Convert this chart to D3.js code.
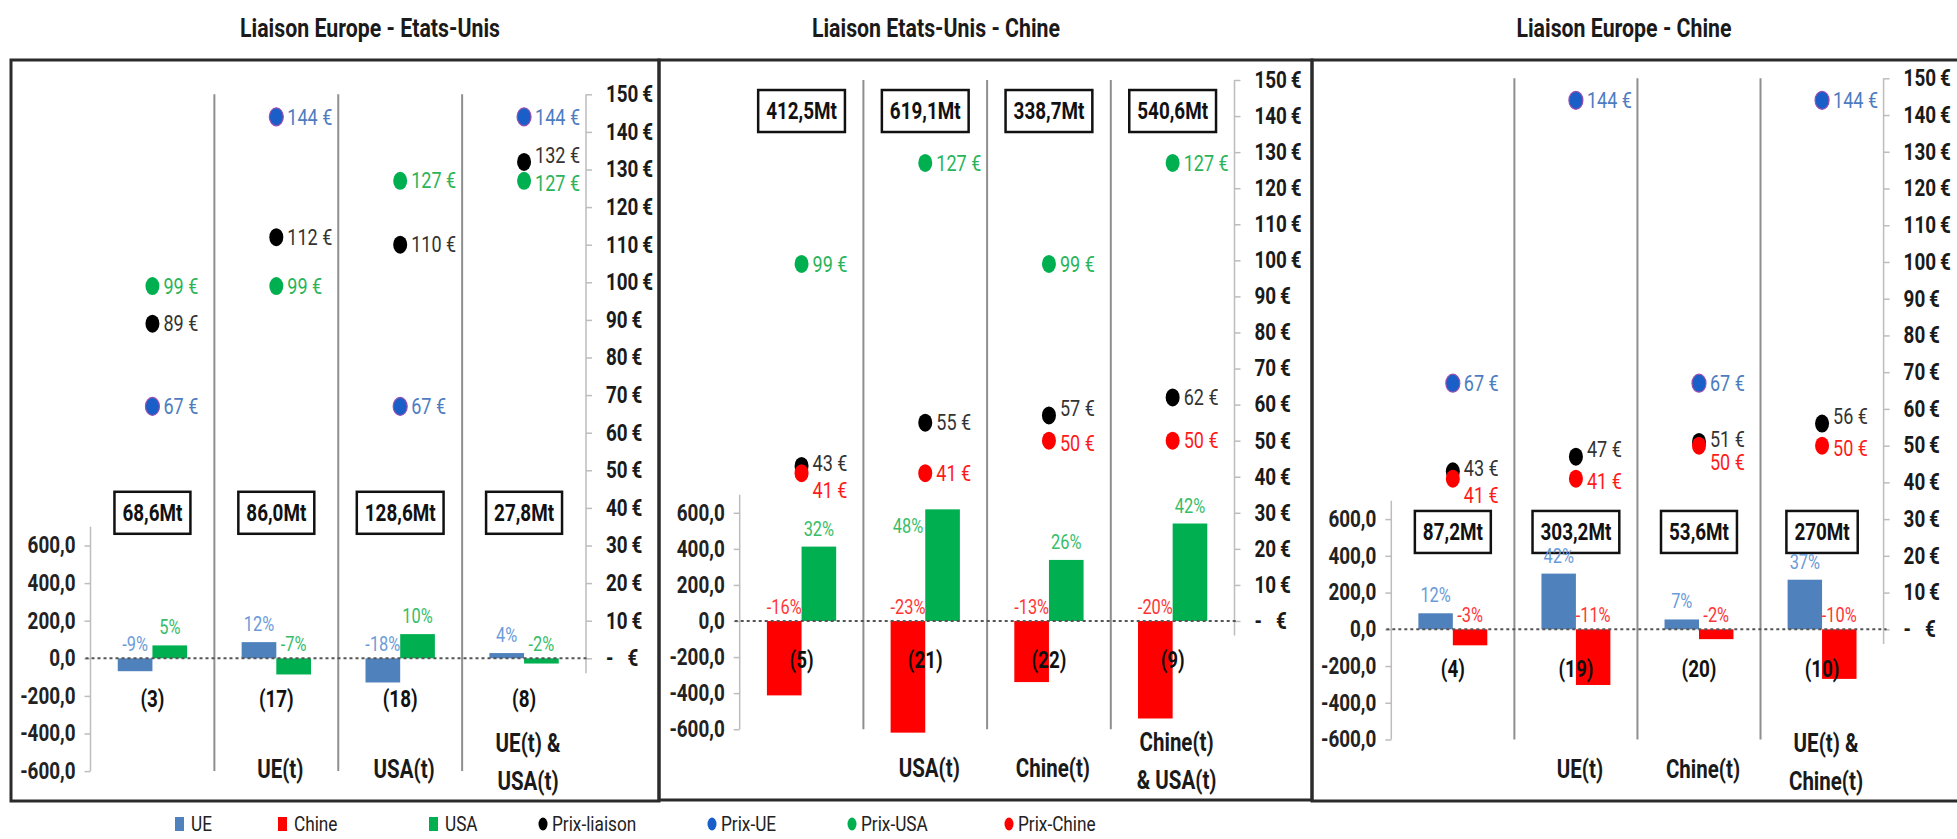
<!DOCTYPE html>
<html><head><meta charset="utf-8">
<script src="https://cdn.jsdelivr.net/npm/d3@7/dist/d3.min.js"></script>
<style>
html,body{margin:0;padding:0;background:#fff;}
svg{display:block;font-family:Roboto,"Liberation Sans",sans-serif;}
</style></head><body>
<svg id="chart" width="1957" height="839"></svg>
<script>
// ---------------- DATA ----------------
const panelTitles = ["Liaison Europe - Etats-Unis", "Liaison Etats-Unis - Chine", "Liaison Europe - Chine"];
const volumeTicks = [-600, -400, -200, 0, 200, 400, 600];
const priceTicks = [0, 10, 20, 30, 40, 50, 60, 70, 80, 90, 100, 110, 120, 130, 140, 150];

// Liaison Europe - Etats-Unis
const euUsIds = ["(3)", "(17)", "(18)", "(8)"];
const euUsCats = ["", "UE(t)", "USA(t)", "UE(t) &|USA(t)"];
const euUsVolumes = ["68,6Mt", "86,0Mt", "128,6Mt", "27,8Mt"];
const euUsBarUE = [-68.6, 86.0, -128.6, 27.8];
const euUsBarUSA = [68.6, -86.0, 128.6, -27.8];
const euUsPctUE = ["-9%", "12%", "-18%", "4%"];
const euUsPctUSA = ["5%", "-7%", "10%", "-2%"];
const euUsPrixLiaison = [89, 112, 110, 132];
const euUsPrixUE = [67, 144, 67, 144];
const euUsPrixUSA = [99, 99, 127, 127];

// Liaison Etats-Unis - Chine
const usCnIds = ["(5)", "(21)", "(22)", "(9)"];
const usCnCats = ["", "USA(t)", "Chine(t)", "Chine(t)|& USA(t)"];
const usCnVolumes = ["412,5Mt", "619,1Mt", "338,7Mt", "540,6Mt"];
const usCnBarChine = [-412.5, -619.1, -338.7, -540.6];
const usCnBarUSA = [412.5, 619.1, 338.7, 540.6];
const usCnPctChine = ["-16%", "-23%", "-13%", "-20%"];
const usCnPctUSA = ["32%", "48%", "26%", "42%"];
const usCnPrixLiaison = [43, 55, 57, 62];
const usCnPrixUSA = [99, 127, 99, 127];
const usCnPrixChine = [41, 41, 50, 50];

// Liaison Europe - Chine
const euCnIds = ["(4)", "(19)", "(20)", "(10)"];
const euCnCats = ["", "UE(t)", "Chine(t)", "UE(t) &|Chine(t)"];
const euCnVolumes = ["87,2Mt", "303,2Mt", "53,6Mt", "270Mt"];
const euCnBarUE = [87.2, 303.2, 53.6, 270];
const euCnBarChine = [-87.2, -303.2, -53.6, -270];
const euCnPctUE = ["12%", "42%", "7%", "37%"];
const euCnPctChine = ["-3%", "-11%", "-2%", "-10%"];
const euCnPrixLiaison = [43, 47, 51, 56];
const euCnPrixUE = [67, 144, 67, 144];
const euCnPrixChine = [41, 41, 50, 50];

const legendItems = [
  {name: "UE", type: "bar", key: "UE"},
  {name: "Chine", type: "bar", key: "Chine"},
  {name: "USA", type: "bar", key: "USA"},
  {name: "Prix-liaison", type: "dot", key: "liaison"},
  {name: "Prix-UE", type: "dot", key: "UE"},
  {name: "Prix-USA", type: "dot", key: "USA"},
  {name: "Prix-Chine", type: "dot", key: "Chine"}
];

// ---------------- STYLE / LAYOUT ----------------
const barColor = {UE: "#4f81bd", Chine: "#ff0000", USA: "#00b050"};
const pctColor = {UE: "#6a9bd8", Chine: "#ff3535", USA: "#35bd68"};
const dotColor = {liaison: "#000000", UE: "#1a5fc8", USA: "#00b050", Chine: "#ff0000"};
const priceLabelColor = {liaison: "#333333", UE: "#4d7cc0", USA: "#2ab45a", Chine: "#ff1a1a"};
const SX = 0.82;

const layouts = [
  {frame: [11, 60, 659, 801], x0: 90.5, x1: 586, zero: 658.3, top: 94.3, titleX: 370, boxLevel: 38.7},
  {frame: [659, 60, 1312, 800], x0: 739.7, x1: 1234.5, zero: 621, top: 80, titleX: 936, boxLevel: 141.4},
  {frame: [1312, 60, 1962, 801], x0: 1391.3, x1: 1883.6, zero: 629.3, top: 78.3, titleX: 1624, boxLevel: 26.5}
];
const legendX = [175, 278, 429, 543, 712, 852, 1009];

const panels = [
  {title: panelTitles[0], ids: euUsIds, cats: euUsCats, volumes: euUsVolumes,
   bars: [{key: "UE", values: euUsBarUE, pct: euUsPctUE}, {key: "USA", values: euUsBarUSA, pct: euUsPctUSA}],
   prices: [{key: "liaison", values: euUsPrixLiaison}, {key: "UE", values: euUsPrixUE}, {key: "USA", values: euUsPrixUSA}]},
  {title: panelTitles[1], ids: usCnIds, cats: usCnCats, volumes: usCnVolumes,
   bars: [{key: "Chine", values: usCnBarChine, pct: usCnPctChine}, {key: "USA", values: usCnBarUSA, pct: usCnPctUSA}],
   prices: [{key: "liaison", values: usCnPrixLiaison}, {key: "USA", values: usCnPrixUSA}, {key: "Chine", values: usCnPrixChine}]},
  {title: panelTitles[2], ids: euCnIds, cats: euCnCats, volumes: euCnVolumes,
   bars: [{key: "UE", values: euCnBarUE, pct: euCnPctUE}, {key: "Chine", values: euCnBarChine, pct: euCnPctChine}],
   prices: [{key: "liaison", values: euCnPrixLiaison}, {key: "UE", values: euCnPrixUE}, {key: "Chine", values: euCnPrixChine}]}
];

// ---------------- DRAW ----------------
const svg = d3.select("#chart");

function addText(g, x, y, str, o = {}) {
  return g.append("text")
    .attr("transform", `translate(${x},${y}) scale(${SX},1)`)
    .attr("text-anchor", o.anchor || "start")
    .attr("dy", o.dy !== undefined ? o.dy : "0.35em")
    .style("font-size", (o.size || 20) + "px")
    .style("font-weight", o.weight || "normal")
    .attr("fill", o.fill || "#000")
    .text(str);
}
function overlaps(a, b) {
  return a.left < b.right && b.left < a.right && a.top < b.bottom && b.top < a.bottom;
}

function fmtVol(d) { return (d < 0 ? "-" : "") + Math.abs(d).toFixed(1).replace(".", ","); }
function fmtPrice(d) { return d === 0 ? "-\u00a0\u00a0\u00a0€" : d + "\u2009€"; }

panels.forEach((p, pi) => {
  const L = layouts[pi];
  const g = svg.append("g");
  const [fx0, fy0, fx1, fy1] = L.frame;

  // title
  addText(g, L.titleX, 28, p.title, {anchor: "middle", size: 26, weight: "bold", fill: "#1a1a1a"});

  const x = d3.scaleBand().domain(d3.range(p.ids.length)).range([L.x0, L.x1]).padding(0);
  const bw = x.bandwidth();
  const xs = d3.scaleBand().domain(p.bars.map(b => b.key)).range([bw * 0.22, bw * 0.78]).padding(0);
  const yPrice = d3.scaleLinear().domain([0, 150]).range([L.zero, L.top]);
  const yVol = d3.scaleLinear().domain([0, 3000]).range([L.zero, L.top]);

  // separators
  for (let i = 1; i < p.ids.length; i++) {
    g.append("line").attr("x1", x(i)).attr("x2", x(i))
      .attr("y1", yPrice(150)).attr("y2", yVol(-600))
      .attr("stroke", "#8f8f8f").attr("stroke-width", 2);
  }

  // left axis
  const la = g.append("g").attr("transform", `translate(${L.x0},0)`)
    .call(d3.axisLeft(yVol).tickValues(volumeTicks).tickSize(6).tickPadding(9).tickFormat(fmtVol));
  la.select(".domain").remove();
  la.selectAll(".tick line").attr("stroke", "#bdbdbd").attr("stroke-width", 1.5);
  la.selectAll(".tick text").each(function () {
    const t = d3.select(this);
    const tx = +t.attr("x");
    t.attr("x", 0).attr("transform", `translate(${tx},0) scale(${SX},1)`)
      .attr("fill", "#222").style("font-size", "23px").style("font-weight", "bold")
      .style("font-family", "Roboto,sans-serif");
  });
  g.append("line").attr("x1", L.x0).attr("x2", L.x0).attr("y1", yVol(700)).attr("y2", yVol(-600))
    .attr("stroke", "#bdbdbd").attr("stroke-width", 1.5);

  // right axis
  const ra = g.append("g").attr("transform", `translate(${L.x1},0)`)
    .call(d3.axisRight(yPrice).tickValues(priceTicks).tickSize(6).tickPadding(14).tickFormat(fmtPrice));
  ra.select(".domain").remove();
  ra.selectAll(".tick line").attr("stroke", "#bdbdbd").attr("stroke-width", 1.5);
  ra.selectAll(".tick text").each(function () {
    const t = d3.select(this);
    const tx = +t.attr("x");
    t.attr("x", 0).attr("transform", `translate(${tx},0) scale(${SX},1)`)
      .attr("fill", "#1a1a1a").style("font-size", "23px").style("font-weight", "bold")
      .style("font-family", "Roboto,sans-serif");
  });
  g.append("line").attr("x1", L.x1).attr("x2", L.x1).attr("y1", yPrice(150)).attr("y2", yPrice(-4))
    .attr("stroke", "#bdbdbd").attr("stroke-width", 1.5);

  // bars
  p.bars.forEach(b => {
    g.selectAll(null).data(b.values).join("rect")
      .attr("x", (d, i) => x(i) + xs(b.key))
      .attr("width", xs.bandwidth())
      .attr("y", d => yVol(Math.max(d, 0)))
      .attr("height", d => Math.abs(yVol(d) - yVol(0)))
      .attr("fill", barColor[b.key]);
  });

  // zero dotted line
  g.append("line").attr("x1", L.x0 - 5).attr("x2", L.x1 + 3)
    .attr("y1", yVol(0)).attr("y2", yVol(0))
    .attr("stroke", "#555").attr("stroke-width", 2).attr("stroke-dasharray", "3,3");

  // ids under zero
  p.ids.forEach((s, i) => {
    addText(g, x(i) + bw / 2, yVol(-215), s, {anchor: "middle", size: 23, weight: "bold", fill: "#111"});
  });

  // category labels
  p.cats.forEach((s, i) => {
    if (!s) return;
    const lines = s.split("|");
    const cx = x(i) + bw / 2 + 4;
    if (lines.length === 1) {
      addText(g, cx, fy1 - 32, lines[0], {anchor: "middle", size: 25, weight: "bold", fill: "#1a1a1a"});
    } else {
      addText(g, cx, fy1 - 58, lines[0], {anchor: "middle", size: 25, weight: "bold", fill: "#1a1a1a"});
      addText(g, cx, fy1 - 20, lines[1], {anchor: "middle", size: 25, weight: "bold", fill: "#1a1a1a"});
    }
  });

  // volume boxes
  p.volumes.forEach((s, i) => {
    const cx = x(i) + bw / 2, cy = yPrice(L.boxLevel);
    const bg = g.append("g");
    const rect = bg.append("rect");
    const t = addText(bg, cx, cy, s, {anchor: "middle", size: 23, weight: "bold", fill: "#111"});
    const w = t.node().getComputedTextLength() * SX + 16;
    const h = 42;
    rect.attr("x", cx - w / 2).attr("y", cy - h / 2).attr("width", w).attr("height", h)
      .attr("fill", "#fff").attr("stroke", "#111").attr("stroke-width", 2.5);
  });

  // price points
  p.prices.forEach(s => {
    g.selectAll(null).data(s.values).join("ellipse")
      .attr("cx", (d, i) => x(i) + bw / 2)
      .attr("cy", d => yPrice(d))
      .attr("rx", 7).attr("ry", 9)
      .attr("fill", dotColor[s.key])
      .attr("stroke", s.key === "UE" ? "#9a4fb0" : "none")
      .attr("stroke-width", 1.2);
  });
  // price labels
  const priceRects = [];
  p.prices.forEach(s => {
    s.values.forEach((v, i) => {
      let dy = 0;
      p.prices.forEach(o => {
        if (o === s) return;
        const q = o.values[i];
        const gap = Math.abs(q - v);
        if (gap <= 7) {
          if (q < v) dy = gap <= 3 ? -3 : -7;
          else dy = gap <= 3 ? 17 : 3;
        }
      });
      const t = addText(g, x(i) + bw / 2 + 11, yPrice(v) + dy, v + " €", {size: 22, fill: priceLabelColor[s.key]});
      priceRects.push(t.node().getBoundingClientRect());
    });
  });

  // percent labels (moved beside the bar when they would hit a price label)
  p.bars.forEach(b => {
    b.values.forEach((v, i) => {
      const cx = x(i) + xs(b.key) + xs.bandwidth() / 2;
      const cy = v >= 0 ? yVol(v) - 18 : yVol(0) - 14;
      const t = addText(g, cx, cy, b.pct[i], {anchor: "middle", size: 20, fill: pctColor[b.key]});
      const r = t.node().getBoundingClientRect();
      if (priceRects.some(pr => overlaps(r, pr))) {
        t.attr("transform", `translate(${cx - xs.bandwidth()},${yVol(v) + 17}) scale(${SX},1)`);
      }
    });
  });

  // frame
  g.append("rect").attr("x", fx0).attr("y", fy0).attr("width", fx1 - fx0).attr("height", fy1 - fy0)
    .attr("fill", "none").attr("stroke", "#2b2b2b").attr("stroke-width", 3);
});

// legend
const lg = svg.append("g");
legendItems.forEach((it, i) => {
  const lx = legendX[i], ly = 824;
  if (it.type === "bar") {
    lg.append("rect").attr("x", lx).attr("y", ly - 7).attr("width", 9).attr("height", 14).attr("fill", barColor[it.key]);
    addText(lg, lx + 16, ly, it.name, {size: 21, fill: "#222"});
  } else {
    lg.append("ellipse").attr("cx", lx).attr("cy", ly).attr("rx", 4.5).attr("ry", 6.5).attr("fill", dotColor[it.key]);
    addText(lg, lx + 9, ly, it.name, {size: 21, fill: "#222"});
  }
});
</script>
</body></html>
